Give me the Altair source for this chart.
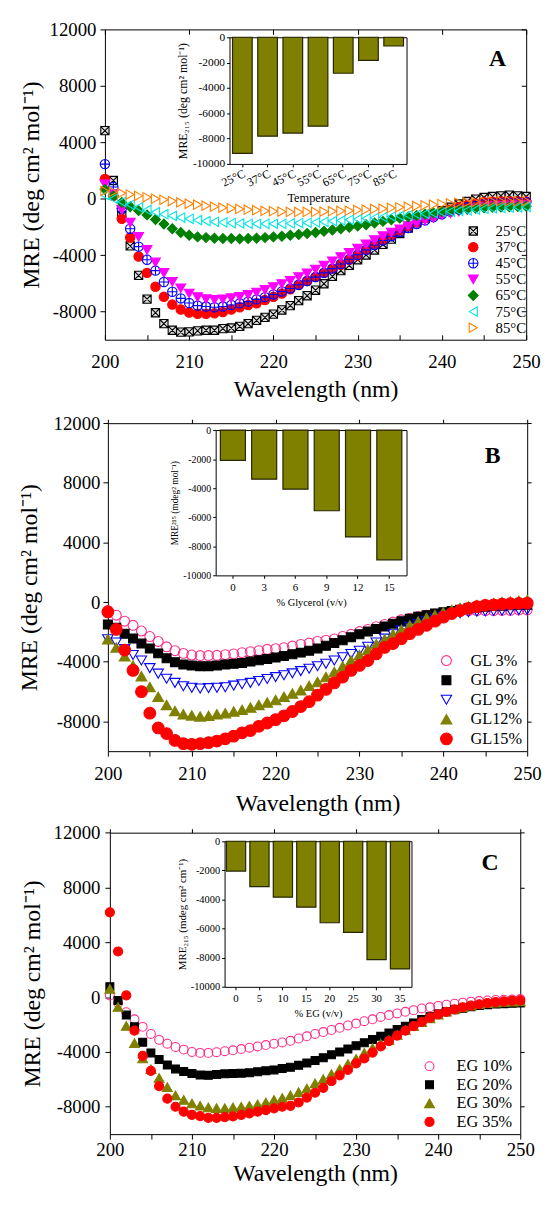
import altair as alt
import pandas as pd

FONT = "Liberation Serif"

WAVELENGTH = list(range(200, 251))

# ---------------- Panel A : temperature ----------------
A_SERIES = ["25°C", "37°C", "45°C", "55°C", "65°C", "75°C", "85°C"]
A_25 = [4820, 1290, -1190, -3350, -5440, -7120, -8090, -8860, -9330, -9460, -9440, -9370, -9330, -9330, -9210,
        -9170, -9050, -8860, -8630, -8420, -8190, -7890, -7580, -7230, -6880, -6490, -6030, -5510, -5100, -4730,
        -4330, -3990, -3640, -3240, -2870, -2470, -2080, -1710, -1380, -1100, -850, -610, -380, -200, -30,
        80, 150, 200, 250, 200, 150]
A_37 = [1400, 200, -1430, -2750, -4100, -5260, -6240, -6960, -7510, -7860, -8070, -8160, -8160, -8120, -8030,
        -7860, -7700, -7540, -7420, -7190, -6960, -6720, -6420, -6120, -5840, -5560, -5260, -4960, -4680, -4330,
        -4030, -3630, -3280, -2940, -2590, -2240, -1940, -1660, -1380, -1190, -960, -780, -610, -470, -360,
        -260, -220, -200, -200, -200, -200]
A_45 = [2450, 830, -700, -2130, -3400, -4330, -5100, -5910, -6600, -7070, -7400, -7580, -7650, -7700, -7650,
        -7540, -7420, -7300, -7140, -6980, -6790, -6580, -6370, -6100, -5840, -5560, -5260, -4960, -4630, -4290,
        -3980, -3630, -3280, -2960, -2660, -2360, -2080, -1800, -1540, -1310, -1100, -920, -750, -610, -500,
        -380, -330, -310, -290, -270, -260]
A_55 = [1010, 320, -780, -1700, -2710, -3630, -4520, -5260, -5890, -6350, -6720, -6980, -7120, -7170, -7140,
        -7050, -6960, -6820, -6650, -6470, -6260, -6050, -5820, -5560, -5300, -5020, -4740, -4440, -4140, -3840,
        -3540, -3240, -2940, -2660, -2400, -2170, -1940, -1730, -1540, -1360, -1190, -1050, -920, -800, -680,
        -590, -540, -510, -490, -470, -450]
A_65 = [660, 200, -270, -570, -850, -1150, -1480, -1800, -2130, -2400, -2590, -2710, -2760, -2800, -2830,
        -2830, -2850, -2830, -2800, -2760, -2710, -2660, -2590, -2540, -2470, -2400, -2310, -2220, -2130, -2030,
        -1940, -1850, -1730, -1610, -1500, -1380, -1290, -1190, -1100, -1010, -920, -850, -780, -730, -680,
        -640, -610, -590, -570, -560, -540]
A_75 = [250, 0, -220, -430, -610, -800, -960, -1100, -1220, -1340, -1430, -1520, -1590, -1640, -1680,
        -1730, -1750, -1780, -1780, -1780, -1780, -1780, -1750, -1730, -1710, -1680, -1640, -1590, -1540, -1500,
        -1450, -1400, -1360, -1310, -1270, -1220, -1170, -1130, -1080, -1030, -960, -920, -870, -830, -780,
        -730, -680, -660, -640, -610, -590]
A_85 = [550, 480, 390, 290, 200, 100, 0, -80, -170, -270, -360, -430, -500, -570, -640,
        -680, -730, -780, -820, -870, -890, -920, -940, -940, -940, -940, -920, -890, -870, -850,
        -800, -780, -730, -710, -660, -610, -570, -520, -470, -430, -380, -330, -290, -270, -240,
        -220, -200, -180, -180, -180, -170]
A_BAR_LABELS = ["25°C", "37°C", "45°C", "55°C", "65°C", "75°C", "85°C"]
A_BAR_VALUES = [-9160, -7810, -7560, -7020, -2840, -1820, -690]

# ---------------- Panel B : glycerol ----------------
B_SERIES = ["GL 3%", "GL 6%", "GL 9%", "GL12%", "GL15%"]
B_3 = [-570, -880, -1280, -1560, -1940, -2310, -2640, -3000, -3260, -3440, -3550, -3590, -3590, -3570, -3530,
       -3480, -3390, -3330, -3260, -3170, -3130, -3060, -2950, -2840, -2750, -2640, -2560, -2470, -2310, -2160,
       -1980, -1830, -1650, -1500, -1340, -1190, -1080, -970, -880, -790, -710, -640, -600, -570, -570,
       -570, -570, -550, -550, -530, -530]
B_6 = [-1500, -1720, -2120, -2450, -2780, -3110, -3440, -3770, -4030, -4190, -4250, -4300, -4300, -4250, -4190,
       -4140, -4080, -3990, -3900, -3810, -3720, -3610, -3500, -3390, -3260, -3110, -2930, -2750, -2560, -2360,
       -2160, -1980, -1810, -1630, -1450, -1280, -1120, -990, -880, -770, -680, -600, -510, -420, -350,
       -310, -270, -240, -220, -200, -180]
B_9 = [-2490, -2710, -3150, -3550, -3920, -4430, -4800, -5140, -5420, -5640, -5750, -5800, -5770, -5750, -5710,
       -5600, -5510, -5420, -5290, -5160, -5030, -4910, -4780, -4630, -4470, -4300, -4140, -3920, -3700, -3480,
       -3260, -3000, -2710, -2450, -2160, -1900, -1650, -1450, -1280, -1100, -950, -840, -750, -680, -640,
       -620, -600, -580, -560, -540, -530]
B_12 = [-2490, -3040, -3640, -4250, -4980, -5690, -6350, -6900, -7300, -7520, -7600, -7670, -7630, -7520, -7450,
        -7340, -7230, -7070, -6900, -6740, -6570, -6350, -6130, -5910, -5620, -5360, -5030, -4690, -4320, -3920,
        -3550, -3200, -2820, -2490, -2160, -1850, -1560, -1300, -1060, -860, -680, -530, -400, -290, -200,
        -130, -70, 0, 40, 90, 130]
B_15 = [-660, -1830, -3220, -4580, -6010, -7450, -8440, -8820, -9280, -9500, -9540, -9500, -9430, -9320, -9170,
        -8990, -8770, -8620, -8330, -8110, -7890, -7630, -7340, -7010, -6680, -6240, -5860, -5420, -5030, -4580,
        -4250, -3920, -3480, -3040, -2780, -2450, -2120, -1830, -1560, -1280, -1010, -770, -570, -420, -310,
        -220, -180, -130, -110, -90, -70]
B_BAR_LABELS = ["0", "3", "6", "9", "12", "15"]
B_BAR_VALUES = [-2080, -3380, -4070, -5550, -7350, -8930]

# ---------------- Panel C : ethylene glycol ----------------
C_SERIES = ["EG 10%", "EG 20%", "EG 30%", "EG 35%"]
C_10 = [120, -430, -1100, -1620, -2170, -2690, -3120, -3400, -3640, -3830, -4000, -4070, -4070, -4020, -3950,
        -3880, -3790, -3690, -3600, -3500, -3400, -3310, -3190, -3020, -2860, -2690, -2550, -2400, -2240, -2070,
        -1930, -1760, -1620, -1450, -1310, -1190, -1070, -950, -830, -740, -640, -550, -480, -400, -330,
        -290, -240, -210, -190, -170, -140]
C_20 = [760, -240, -1310, -2170, -3290, -4070, -4550, -4950, -5240, -5430, -5570, -5690, -5710, -5640, -5600,
        -5570, -5550, -5520, -5450, -5380, -5310, -5210, -5120, -4980, -4810, -4620, -4430, -4210, -4000, -3790,
        -3550, -3330, -3100, -2860, -2620, -2360, -2120, -1880, -1640, -1430, -1240, -1070, -930, -810, -710,
        -620, -550, -500, -480, -450, -430]
C_30 = [600, -710, -2100, -3360, -4480, -5260, -5900, -6570, -7170, -7500, -7760, -7930, -8050, -8100, -8100,
        -8050, -8000, -7930, -7830, -7690, -7500, -7360, -7170, -6930, -6670, -6290, -5980, -5620, -5260, -4880,
        -4500, -4070, -3710, -3400, -3120, -2760, -2400, -2120, -1830, -1550, -1290, -1070, -880, -740, -620,
        -520, -450, -400, -360, -330, -310]
C_35 = [6190, 3330, 120, -2450, -4290, -5380, -6500, -7410, -8000, -8360, -8600, -8690, -8810, -8810, -8760,
        -8710, -8600, -8480, -8360, -8240, -8120, -8000, -7930, -7690, -7330, -6980, -6620, -6140, -5710, -5310,
        -4830, -4480, -4050, -3600, -3210, -2810, -2450, -2120, -1810, -1500, -1260, -1070, -900, -740, -620,
        -520, -430, -360, -310, -260, -240]
C_BAR_LABELS = ["0", "5", "10", "15", "20", "25", "30", "35"]
C_BAR_VALUES = [-2050, -3120, -3840, -4530, -5600, -6260, -8130, -8770]

X_TICKS = list(range(200, 251, 5))
X_MAJOR = list(range(200, 251, 10))
Y_TICKS = [12000, 8000, 4000, 0, -4000, -8000]
INSET_Y_TICKS = [0, -2000, -4000, -6000, -8000, -10000]

OLIVE = "#808000"
BAR_EDGE = "#262600"
SQX = "M-1,-1L1,-1L1,1L-1,1Z M-1,-1L1,1 M1,-1L-1,1"
CPLUS = "M1,0A1,1,0,1,1,-1,0A1,1,0,1,1,1,0Z M-1,0L1,0 M0,-1L0,1"

# whole drawing area: one layered chart, every panel placed through its own scale ranges
W, H = 541, 1186


def fx(x):
    return x - 9


def fy(y):
    return 15 + (y - 24) * 0.993


MAIN_AXIS = dict(grid=False, domainColor="black", domainWidth=1, tickColor="black", tickWidth=1, tickSize=5,
                 labelColor="black", titleColor="black", labelFont=FONT, titleFont=FONT,
                 titleFontWeight="normal", labelFlush=False, labelOverlap=False,
                 labelFontSize=19, titleFontSize=24)
INSET_AXIS = dict(grid=False, domainColor="black", tickColor="black", tickSize=3, labelColor="black",
                  titleColor="black", labelFont=FONT, titleFont=FONT, titleFontWeight="normal",
                  labelFlush=False, labelOverlap=False)
FRAME_AXIS = dict(labels=False, ticks=False, title=None, domainColor="black", grid=False)
TICK_AXIS = dict(labels=False, domain=False, ticks=True, tickSize=5, tickColor="black", title=None, grid=False)


def long_df(names, arrays):
    rows = []
    for name, arr in zip(names, arrays):
        for wl, v in zip(WAVELENGTH, arr):
            rows.append({"wl": wl, "mre": v, "series": name})
    return pd.DataFrame(rows)


def panel(names, arrays, shapes, fills, strokes, sizes, box, legend_kw, x_kw, y_kw,
          bar_labels, bar_values, ibox, pad_in, pad_out, bx_kw, by_kw, bx_title, by_title,
          letter, letter_xy, inward):
    x0, x1, yt, yb = fx(box[0]), fx(box[1]), fy(box[2]), fy(box[3])
    ix0, ix1, iyt, iyb = fx(ibox[0]), fx(ibox[1]), fy(ibox[2]), fy(ibox[3])

    df = long_df(names, arrays)
    leg = alt.Legend(orient="none", title=None, labelFont=FONT, labelColor="black", padding=0,
                     symbolOpacity=1, symbolStrokeWidth=1.1, **legend_kw)
    xs = alt.Scale(domain=[200, 250], range=[x0, x1], nice=False, zero=False)
    ys = alt.Scale(domain=[-10000, 12000], range=[yb, yt], nice=False, zero=False)
    points = alt.Chart(df).mark_point(opacity=1, strokeWidth=1.1).encode(
        x=alt.X("wl:Q", scale=xs,
                axis=alt.Axis(orient="bottom", offset=-(H - yb), values=X_TICKS, ticks=not inward,
                              labelExpr="datum.value % 10 == 0 ? '' + datum.value : ''",
                              title="Wavelength (nm)", **MAIN_AXIS, **x_kw)),
        y=alt.Y("mre:Q", scale=ys,
                axis=alt.Axis(orient="left", offset=-x0, values=Y_TICKS, labelExpr="'' + datum.value",
                              title="MRE (deg cm² mol⁻¹)", **MAIN_AXIS, **y_kw)),
        shape=alt.Shape("series:N", scale=alt.Scale(domain=names, range=shapes), legend=leg),
        fill=alt.Fill("series:N", scale=alt.Scale(domain=names, range=fills), legend=leg),
        stroke=alt.Stroke("series:N", scale=alt.Scale(domain=names, range=strokes), legend=leg),
        size=alt.Size("series:N", scale=alt.Scale(type="ordinal", domain=names, range=sizes), legend=leg),
    )
    out = [points]
    if inward:
        # box lines, then ticks pointing into the plot on all four sides except the left
        out.append(alt.Chart(df).mark_point(opacity=0).encode(
            x=alt.X("wl:Q", scale=xs, axis=alt.Axis(orient="top", offset=-yt, **FRAME_AXIS)),
            y=alt.Y("mre:Q", scale=ys, axis=alt.Axis(orient="right", offset=-(W - x1), **FRAME_AXIS)),
        ))
        out.append(alt.Chart(df).mark_point(opacity=0).encode(
            x=alt.X("wl:Q", scale=xs, axis=alt.Axis(orient="top", offset=-yb, values=X_TICKS, **TICK_AXIS)),
            y=alt.Y("mre:Q", scale=ys, axis=alt.Axis(orient="left", offset=-x1, values=Y_TICKS, **TICK_AXIS)),
        ))
        out.append(alt.Chart(df).mark_point(opacity=0).encode(
            x=alt.X("wl:Q", scale=xs, axis=alt.Axis(orient="bottom", offset=-(H - yt), values=X_MAJOR,
                                                   **TICK_AXIS)),
            y=alt.Y("mre:Q", scale=ys, axis=None),
        ))
    else:
        mirror = dict(labels=False, ticks=True, tickSize=4, tickColor="black", title=None,
                      domainColor="black", grid=False)
        out.append(alt.Chart(df).mark_point(opacity=0).encode(
            x=alt.X("wl:Q", scale=xs, axis=alt.Axis(orient="top", offset=-yt, values=X_MAJOR, **mirror)),
            y=alt.Y("mre:Q", scale=ys, axis=alt.Axis(orient="right", offset=-(W - x1), values=Y_TICKS,
                                                    **mirror)),
        ))

    bdf = pd.DataFrame({"cat": bar_labels, "val": bar_values})
    bxs = alt.Scale(range=[ix0, ix1], paddingInner=pad_in, paddingOuter=pad_out)
    bys = alt.Scale(domain=[-10000, 0], range=[iyb, iyt], nice=False, zero=False)
    out.append(alt.Chart(bdf).mark_bar(fill=OLIVE, stroke=BAR_EDGE, strokeWidth=1.2).encode(
        x=alt.X("cat:N", sort=bar_labels, scale=bxs,
                axis=alt.Axis(orient="bottom", offset=-(H - iyb), title=bx_title, **INSET_AXIS, **bx_kw)),
        y=alt.Y("val:Q", scale=bys,
                axis=alt.Axis(orient="left", offset=-ix0, values=INSET_Y_TICKS,
                              labelExpr="'' + datum.value", title=by_title, **INSET_AXIS, **by_kw)),
    ))
    out.append(alt.Chart(bdf).mark_bar(opacity=0).encode(
        x=alt.X("cat:N", sort=bar_labels, scale=bxs, axis=alt.Axis(orient="top", offset=-iyt, **FRAME_AXIS)),
        y=alt.Y("val:Q", scale=bys, axis=alt.Axis(orient="right", offset=-(W - ix1), **FRAME_AXIS)),
    ))
    out.append(alt.Chart(pd.DataFrame({"t": [letter]})).mark_text(
        font=FONT, fontSize=24, fontWeight="bold", color="black", align="center", baseline="middle"
    ).encode(x=alt.value(fx(letter_xy[0])), y=alt.value(fy(letter_xy[1])), text="t:N"))
    return out


layers = []
layers += panel(
    A_SERIES, [A_25, A_37, A_45, A_55, A_65, A_75, A_85],
    [SQX, "circle", CPLUS, "triangle-down", "diamond", "triangle-left", "triangle-right"],
    ["#dddddd", "#ff0000", "transparent", "#ff00ff", "#007f00", "transparent", "transparent"],
    ["#000000", "#ff0000", "#0000ff", "#ff00ff", "#007f00", "#00e5e5", "#ff8000"],
    [70, 90, 90, 100, 100, 90, 90],
    (107, 533, 24, 340),
    dict(legendX=fx(477) - 5, legendY=fy(230) - 8.2, labelFontSize=15, labelOffset=15, rowPadding=0.3),
    dict(labelPadding=13, titlePadding=6), dict(labelPadding=4, titlePadding=6),
    A_BAR_LABELS, A_BAR_VALUES, (233, 412, 32, 161), 0.22, 0.12,
    dict(labelAngle=-25, labelAlign="right", labelBaseline="top", labelFontSize=12, titleFontSize=12.5,
         labelPadding=1, titlePadding=4),
    dict(labelFontSize=11.5, titleFontSize=12, labelPadding=2, titlePadding=3),
    "Temperature", "MRE₂₁₅ (deg cm² mol⁻¹)", "A", (504, 54), True)

layers += panel(
    B_SERIES, [B_3, B_6, B_9, B_12, B_15],
    ["circle", "square", "triangle-down", "triangle-up", "circle"],
    ["transparent", "#000000", "transparent", OLIVE, "#ff0000"],
    ["#ff2d8a", "#000000", "#0000ff", OLIVE, "#ff0000"],
    [100, 81, 110, 120, 140],
    (110, 534, 425, 759),
    dict(legendX=fx(450) - 5.9, legendY=fy(667) - 8.5, labelFontSize=16.5, labelOffset=16, rowPadding=2.8),
    dict(labelPadding=9, titlePadding=8), dict(labelPadding=3, titlePadding=12),
    B_BAR_LABELS, B_BAR_VALUES, (219, 412, 432, 580), 0.2, 0.15,
    dict(labelAngle=0, labelFontSize=11, titleFontSize=10.5, labelPadding=3, titlePadding=5),
    dict(labelFontSize=10, titleFontSize=9.5, labelPadding=2, titlePadding=3),
    "% Glycerol (v/v)", "MRE²¹⁵ (mdeg² mol⁻¹)", "B", (499, 459), False)

layers += panel(
    C_SERIES, [C_10, C_20, C_30, C_35],
    ["circle", "square", "triangle-up", "circle"],
    ["transparent", "#000000", OLIVE, "#ff0000"],
    ["#ff2d8a", "#000000", OLIVE, "#ff0000"],
    [80, 64, 100, 85],
    (112, 527, 842, 1149),
    dict(legendX=fx(432) - 5, legendY=fy(1080) - 8.5, labelFontSize=16.5, labelOffset=19, rowPadding=1.8),
    dict(labelPadding=2, titlePadding=2), dict(labelPadding=5, titlePadding=9),
    C_BAR_LABELS, C_BAR_VALUES, (228, 417, 850.7, 999), 0.18, 0.08,
    dict(labelAngle=0, labelFontSize=11, titleFontSize=10.5, labelPadding=3, titlePadding=5),
    dict(labelFontSize=10.5, titleFontSize=11, labelPadding=2, titlePadding=3),
    "% EG (v/v)", "MRE₂₁₅ (mdeg cm² cm⁻¹)", "C", (496.5, 873), False)

chart = alt.layer(*layers).resolve_scale(
    x="independent", y="independent", shape="independent", fill="independent",
    stroke="independent", size="independent"
).properties(
    width=W, height=H, autosize=alt.AutoSizeParams(type="none"), padding=0
).configure_view(stroke="transparent")

chart.save("out.html", embed_options={"renderer": "svg", "actions": False})
